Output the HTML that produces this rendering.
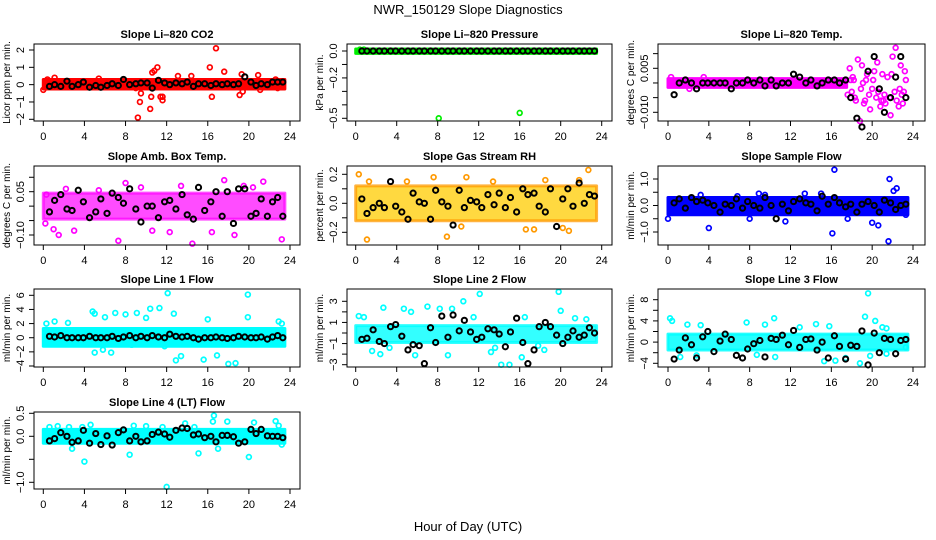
<!DOCTYPE html>
<html><head><meta charset="utf-8">
<style>
html,body{margin:0;padding:0;background:#fff;}
svg{display:block;font-family:"Liberation Sans",Arial,sans-serif;}
</style></head>
<body>
<svg id="chart" width="936" height="540" viewBox="0 0 936 540">
<text x="468" y="14" text-anchor="middle" font-size="13">NWR_150129  Slope Diagnostics</text>
<text x="468" y="531" text-anchor="middle" font-size="13">Hour of Day (UTC)</text>
</svg>
<script>
const xTicks = [0,4,8,12,16,20,24];
const blackHours = [0.6,1.1,1.7,2.3,2.8,3.4,3.9,4.5,5.1,5.6,6.2,6.7,7.3,7.8,8.4,9.0,9.5,10.1,10.6,11.2,11.8,12.3,12.9,13.5,14.0,14.6,15.1,15.7,16.3,16.8,17.4,17.9,18.5,19.0,19.6,20.2,20.7,21.2,21.8,22.3,22.8,23.3];

const co2Black = [-0.1,0,-0.1,0.2,-0.1,0,0.15,-0.15,-0.05,-0.15,-0.05,0.05,-0.05,0.3,0,0.05,0.1,0.1,-0.2,0.25,0.1,0,0.1,0.05,0.15,-0.1,0.05,0.05,-0.05,0.05,0,0.05,0,0.05,0.45,0.15,-0.05,0.05,0,0.15,0.15,0.15];
const co2OutH = [0,0.4,1.1,5.4,9.0,9.2,9.4,9.5,10.4,10.5,10.6,10.8,11.1,11.4,11.6,11.6,13.1,14.4,16.2,16.4,16.8,17.6,19.1,19.3,19.4,20.9,21.1,22.8,22.6];
const co2OutV = [-0.3,0.3,0.4,0.35,-0.2,-1.9,-1.0,-0.5,-1.4,-0.7,0.7,0.8,1.0,-0.7,-0.9,-0.7,0.5,0.5,1.0,-0.7,2.1,0.75,-0.6,0.6,-0.4,0.55,-0.3,-0.2,0.3];
const co2BandH = [0,23.5], co2BandLo = [-0.25,-0.25], co2BandHi = [0.3,0.3];

const presBlack = [0,0,0,0,0,0,0,0,0,0,0,0,0,0,0,0,0,0,0,0,0,0,0,0,0,0,0,0,0,0,0,0,0,0,0,0,0,0,0,0,0,0];
const presOutH = [0.4,0.8,8.1,16.0];
const presOutV = [0.01,0.01,-0.5,-0.46];
const presBandH = [0,23.5], presBandLo = [-0.018,-0.018], presBandHi = [0.015,0.015];

const tempBlack = [-0.004,0,0.001,0,-0.002,0,0,0,0,0,-0.002,0,0,0.001,0,0.001,-0.001,0.001,-0.001,0,0,0.003,0.002,0,0.001,-0.001,0,0.001,0.001,0,0.001,-0.005,-0.012,-0.015,0.004,0.009,-0.002,-0.010,-0.005,0.002,0.009,-0.005];
const tempOutH = [0.3,2.1,3.5,17.8,18.2,18.6,18.8,19.0,19.3,19.5,19.8,20.2,20.5,20.8,21.2,21.5,21.8,22.0,22.3,22.6,22.8,23.0,23.3,18.4,20.0,21.0,22.2,19.1,17.6,23.2,18.0,18.3,18.9,19.4,19.7,20.4,20.9,21.3,21.7,22.4,22.9,23.1,18.1,19.2,20.6,21.9,22.7,17.9,20.1,21.1];
const tempOutV = [0.002,-0.002,0.002,0.005,0.001,0.008,-0.013,0.006,-0.006,0.003,-0.009,0.004,0.007,-0.008,-0.004,0.002,-0.011,0.009,0.012,-0.008,0.006,-0.007,0.001,-0.006,-0.002,0.003,-0.003,0,-0.004,0.004,-0.003,-0.005,-0.002,0.001,-0.004,-0.005,-0.006,-0.007,-0.005,-0.006,-0.004,-0.003,0.002,-0.007,-0.003,0.003,-0.002,0.001,0.001,-0.006];
const tempBandH = [0,17.5], tempBandLo = [-0.0015,-0.0015], tempBandHi = [0.0015,0.0015];

const ambBlack = [-0.02,0.02,0.04,-0.01,-0.015,0.055,0.015,-0.04,-0.02,0.025,-0.025,0.045,0.03,0.01,0.06,-0.01,-0.055,0.0,0.0,-0.04,0.015,0.02,-0.01,0.04,-0.03,-0.045,0.065,-0.015,0.015,0.05,-0.035,0.05,-0.06,0.06,0.06,-0.035,-0.025,0.025,-0.035,0.015,0.03,-0.035];
const ambOutH = [0.3,0.2,1.0,1.5,3.0,5.4,7.3,8.0,10.6,13.4,14.5,17.6,19.5,20.4,21.4,23.2,12.3,9.5,2.2,16.4,18.6];
const ambOutV = [0.04,-0.06,-0.08,-0.1,-0.085,0.055,-0.12,0.08,-0.085,0.07,-0.13,0.09,0.07,0.065,0.085,-0.115,-0.09,0.065,0.06,-0.09,-0.1];
const ambBandH = [0,23.5], ambBandLo = [-0.045,-0.045], ambBandHi = [0.045,0.045];

const rhBlack = [0.03,-0.07,-0.03,0,-0.03,0.15,-0.02,-0.06,-0.11,0.07,0.01,0,-0.11,0.09,0.01,-0.02,-0.15,0.09,-0.03,0.02,0.01,-0.03,0.06,-0.01,0.07,-0.03,0.04,-0.06,0.1,0.06,0.07,-0.02,-0.06,0.1,-0.16,0.03,0.1,-0.02,0.14,0,0.06,0.05];
const rhOutH = [0.3,1.1,1.3,7.6,8.9,10.3,10.8,16.6,17.4,20.2,20.8,22.7,21.8,18.5,13.4,5.0];
const rhOutV = [0.2,-0.25,0.15,0.18,-0.23,-0.16,0.18,-0.18,-0.18,-0.17,-0.19,0.23,0.16,0.16,0.15,0.15];
const rhBandH = [0,23.5], rhBandLo = [-0.12,-0.12], rhBandHi = [0.12,0.12];

const sampBlack = [0.1,0.25,-0.1,0.3,0.15,0.2,0.1,0,-0.25,0.05,0,0.25,-0.1,0.15,0,-0.1,0.3,0,-0.5,0.05,-0.2,0.15,0.25,0.1,0.05,-0.2,0.35,0.05,0.3,0.1,-0.05,0.05,-0.25,0.05,0.15,0,-0.25,0.2,0.1,-0.15,0,0.05];
const sampOutH = [0,3.2,4.0,6.8,8.0,9.5,11.5,13.4,16.1,16.3,17.6,20.0,20.6,21.7,21.6,22.1,22.4,23.3,15.0,8.9];
const sampOutV = [-0.5,0.4,-0.85,0.35,-0.5,0.4,-0.6,0.45,-1.05,1.35,-0.5,-0.65,-0.75,1.0,-1.35,0.55,0.65,-0.35,0.45,0.45];
const sampBandH = [0,23.5], sampBandLo = [-0.35,-0.35], sampBandHi = [0.3,0.3];

const l1Black = [0.2,0.1,0.3,0,0,0,0,0.2,0,0,0,0.2,-0.1,0.1,0.3,0,0.2,0,0.3,0.1,0,0.5,0.2,0.1,0.2,0,-0.2,0,0,0.1,0,-0.1,0,0.2,0.1,0,0,0.1,-0.2,0.1,0.3,0];
const l1OutH = [0.3,1.1,2.4,4.8,5.0,5.0,5.8,6.0,6.6,7.0,8.0,9.1,10.0,10.4,11.3,12.1,12.7,12.9,13.4,15.6,16.9,18.0,19.9,19.9,18.7,22.9,23.2,11.8,8.6,16.0];
const l1OutV = [2.0,2.3,2.1,3.7,3.4,-2.1,-1.7,2.9,-2.1,3.5,3.3,3.5,2.8,4.1,4.2,6.3,3.4,-3.2,-2.6,-3.1,-2.5,-3.7,6.1,2.9,-3.6,2.3,2.0,-1.2,-1.0,2.6];
const l1BandH = [0,23.5], l1BandLo = [-1.2,-1.2], l1BandHi = [1.3,1.3];

const l2Black = [-0.6,-0.5,0.3,-0.8,-1.0,0.6,0.8,-0.3,-1.6,-1.1,-1.2,-2.9,0.5,-0.9,1.6,-0.4,1.7,0.2,1.2,0.1,-0.6,-0.4,0.4,0.3,-0.1,-1.3,0.1,1.4,-0.9,-2.9,-1.6,0.6,1.0,0.6,-0.2,-1.0,-0.4,0.2,-0.4,-0.2,0.5,0];
const l2OutH = [0.3,0.8,1.6,2.4,2.7,3.3,4.7,5.4,5.8,7.0,8.2,9.0,9.4,10.5,11.5,12.1,13.2,13.6,14.2,15.0,16.2,16.5,17.8,19.8,20.0,21.4,22.5,18.4];
const l2OutV = [1.6,1.5,-1.7,-2.0,2.4,-1.4,2.3,2.0,-2.1,2.5,2.3,-2.1,2.3,3.0,1.5,3.7,-1.8,-1.4,-3.0,-3.0,-2.3,1.5,-1.2,3.9,2.1,1.4,1.3,-1.6];
const l2BandH = [0,23.5], l2BandLo = [-0.9,-0.9], l2BandHi = [0.7,0.7];

const l3Black = [-3.2,-1.5,0.8,-0.5,-3.0,1.0,2.0,-1.8,0.2,1.5,0.5,-2.5,-3.0,-1.3,-0.3,0.3,-2.8,0.7,0.5,1.3,-0.5,2.2,-1.0,0.5,0.6,-1.5,0.0,-3.0,1.2,-0.8,-3.2,-0.6,-0.8,2.1,-4.3,1.7,-2.0,0.7,0.5,-2.2,0.3,0.5];
const l3OutH = [0.2,0.4,1.2,1.9,2.8,3.2,7.7,8.7,9.5,10.4,10.5,12.9,14.5,15.3,15.8,16.4,19.3,19.6,19.8,20.3,21.4,21.4,21.0,23.3,17.4,18.8];
const l3OutV = [4.5,4.0,-2.8,3.3,-2.5,3.2,3.7,-2.4,3.3,4.5,-2.8,2.8,3.4,-3.6,3.0,-3.5,4.8,9.2,-2.6,4.0,2.6,-2.2,2.8,-1.0,-3.0,-4.0];
const l3BandH = [0,23.5], l3BandLo = [-1.5,-1.5], l3BandHi = [1.5,1.5];

const l4Black = [-0.1,-0.05,0.08,0,-0.13,-0.1,0.13,-0.15,0.06,-0.18,0.01,-0.19,0.08,0.14,-0.1,0,-0.12,-0.1,0.04,0.09,0.05,-0.02,0.13,0.18,0.17,0.03,0.05,-0.03,0,-0.12,0.02,0.02,-0.01,-0.15,-0.12,0.15,0.06,0.15,0.01,0,0,-0.03];
const l4OutH = [0.6,1.4,2.5,3.8,4.0,4.6,7.8,8.4,8.8,10.0,12.0,13.8,14.7,15.1,16.5,16.6,17.0,17.9,20.0,20.5,22.6,22.9,23.2,2.8,11.6];
const l4OutV = [0.2,0.22,0.2,0.2,-0.55,0.25,-0.05,-0.4,0.23,0.22,-1.1,0.28,0.2,-0.37,0.32,0.45,-0.27,0.32,-0.45,0.3,0.33,0.23,-0.18,-0.27,0.2];
const l4BandH = [0,23.5], l4BandLo = [-0.15,-0.15], l4BandHi = [0.15,0.15];

const cols = [{l:34,r:300,h0:43.3,h24:290},{l:347,r:612,h0:355.7,h24:601.7},{l:658,r:925,h0:668,h24:913}];
const rows = [{t:44,b:121},{t:166,b:245},{t:289,b:367},{t:412,b:489}];

const panels = [
 {name:'co2',title:'Slope Li\u2013820 CO2',ylab:'Licor ppm per min.',c:0,r:0,color:'#ff0000',fill:'#ff0000',op:1,ref:[2,50,-2,119.3],ticks:[-2,-1,0,1,2],labs:[[2,'2'],[1,'1'],[0,'0'],[-1,'\u22121'],[-2,'\u22122']],black:co2Black,oh:co2OutH,ov:co2OutV,bh:co2BandH,bl:co2BandLo,bu:co2BandHi},
 {name:'pressure',title:'Slope Li\u2013820 Pressure',ylab:'kPa per min.',c:1,r:0,color:'#00ee00',fill:'#00ee00',op:1,ref:[0,51,-0.5,118.3],ticks:[0,-0.1,-0.2,-0.3,-0.4,-0.5],labs:[[0,'0.0'],[-0.2,'\u22120.2'],[-0.5,'\u22120.5']],black:presBlack,oh:presOutH,ov:presOutV,bh:presBandH,bl:presBandLo,bu:presBandHi},
 {name:'li820-temp',title:'Slope Li\u2013820 Temp.',ylab:'degrees C per min.',c:2,r:0,color:'#ff00ff',fill:'#ff00ff',op:1,ref:[0.005,68.3,-0.01,112.3],ticks:[0.01,0.005,0,-0.005,-0.01],labs:[[0.005,'0.005'],[-0.01,'\u22120.010']],black:tempBlack,oh:tempOutH,ov:tempOutV,bh:tempBandH,bl:tempBandLo,bu:tempBandHi},
 {name:'amb-box-temp',title:'Slope Amb. Box Temp.',ylab:'degrees C per min.',c:0,r:1,color:'#ff00ff',fill:'#ff00ff',op:0.7,ref:[0.05,191.7,-0.1,235],ticks:[0.1,0.05,0,-0.05,-0.1],labs:[[0.05,'0.05'],[-0.1,'\u22120.10']],black:ambBlack,oh:ambOutH,ov:ambOutV,bh:ambBandH,bl:ambBandLo,bu:ambBandHi},
 {name:'gas-stream-rh',title:'Slope Gas Stream RH',ylab:'percent per min.',c:1,r:1,color:'#ff9900',fill:'#ffcc00',op:0.75,ref:[0.2,174.3,-0.2,232.3],ticks:[0.2,0.1,0,-0.1,-0.2],labs:[[0.2,'0.2'],[0,'0.0'],[-0.2,'\u22120.2']],black:rhBlack,oh:rhOutH,ov:rhOutV,bh:rhBandH,bl:rhBandLo,bu:rhBandHi},
 {name:'sample-flow',title:'Slope Sample Flow',ylab:'ml/min per min.',c:2,r:1,color:'#0000ff',fill:'#0000ff',op:1,ref:[1,179,-1,232],ticks:[1,0.5,0,-0.5,-1],labs:[[1,'1.0'],[0,'0.0'],[-1,'\u22121.0']],black:sampBlack,oh:sampOutH,ov:sampOutV,bh:sampBandH,bl:sampBandLo,bu:sampBandHi},
 {name:'line1-flow',title:'Slope Line 1 Flow',ylab:'ml/min per min.',c:0,r:2,color:'#00ffff',fill:'#00ffff',op:1,ref:[6,295.3,-4,366],ticks:[6,4,2,0,-2,-4],labs:[[6,'6'],[4,'4'],[2,'2'],[0,'0'],[-2,'\u22122'],[-4,'\u22124']],black:l1Black,oh:l1OutH,ov:l1OutV,bh:l1BandH,bl:l1BandLo,bu:l1BandHi},
 {name:'line2-flow',title:'Slope Line 2 Flow',ylab:'ml/min per min.',c:1,r:2,color:'#00ffff',fill:'#00ffff',op:0.8,ref:[3,301.3,-3,364.7],ticks:[3,2,1,0,-1,-2,-3],labs:[[3,'3'],[1,'1'],[-1,'\u22121'],[-3,'\u22123']],black:l2Black,oh:l2OutH,ov:l2OutV,bh:l2BandH,bl:l2BandLo,bu:l2BandHi},
 {name:'line3-flow',title:'Slope Line 3 Flow',ylab:'ml/min per min.',c:2,r:2,color:'#00ffff',fill:'#00ffff',op:0.85,ref:[8,299.7,-4,363.3],ticks:[8,6,4,2,0,-2,-4],labs:[[8,'8'],[4,'4'],[0,'0'],[-4,'\u22124']],black:l3Black,oh:l3OutH,ov:l3OutV,bh:l3BandH,bl:l3BandLo,bu:l3BandHi},
 {name:'line4-flow',title:'Slope Line 4 (LT) Flow',ylab:'ml/min per min.',c:0,r:3,color:'#00ffff',fill:'#00ffff',op:1,ref:[0.5,413.3,-1,482.3],ticks:[0.5,0,-0.5,-1],labs:[[0.5,'0.5'],[0,'0.0'],[-1,'\u22121.0']],black:l4Black,oh:l4OutH,ov:l4OutV,bh:l4BandH,bl:l4BandLo,bu:l4BandHi}
];

const NS = 'http://www.w3.org/2000/svg';
const svg = document.getElementById('chart');
function mk(tag, attrs, parent){
  const e = document.createElementNS(NS, tag);
  for (const k in attrs) e.setAttribute(k, attrs[k]);
  (parent||svg).appendChild(e);
  return e;
}

panels.forEach(p => {
  const col = cols[p.c], row = rows[p.r];
  const xs = h => col.h0 + (col.h24 - col.h0) * h / 24;
  const ys = v => p.ref[1] + (v - p.ref[0]) * (p.ref[3] - p.ref[1]) / (p.ref[2] - p.ref[0]);
  const g = mk('g', {});
  
  

  let pts = [];
  for (let i = 0; i < p.bh.length; i++) pts.push(xs(p.bh[i]) + ',' + ys(p.bu[i]));
  for (let i = p.bh.length - 1; i >= 0; i--) pts.push(xs(p.bh[i]) + ',' + ys(p.bl[i]));
  const band = mk('polygon', {points: pts.join(' '), fill: p.fill, 'fill-opacity': p.op, stroke: p.color, 'stroke-opacity': p.op, 'stroke-width': 3, 'stroke-linejoin': 'round'}, g);
  
  

  for (let i = 0; i < p.oh.length; i++) {
    const c = mk('circle', {cx: xs(p.oh[i]), cy: ys(p.ov[i]), r: 2.4, fill: 'none', stroke: p.color, 'stroke-width': 1.7}, g);
    
    
  }
  const n = Math.min(blackHours.length, p.black.length);
  for (let i = 0; i < n; i++) {
    const c = mk('circle', {cx: xs(blackHours[i]), cy: ys(p.black[i]), r: 2.6, fill: 'none', stroke: '#000', 'stroke-width': 2}, g);
    
    
  }

  const box = mk('rect', {x: col.l, y: row.t, width: col.r - col.l, height: row.b - row.t, fill: 'none', stroke: '#000', 'stroke-width': 1}, g);
  
  

  xTicks.forEach(t => {
    mk('line', {x1: xs(t), x2: xs(t), y1: row.b, y2: row.b + 5, stroke: '#000'}, g);
    const tx = mk('text', {x: xs(t), y: row.b + 19, 'text-anchor': 'middle', 'font-size': 11}, g);
    tx.textContent = t;
    
    
  });
  p.ticks.forEach(t => {
    mk('line', {x1: col.l - 5, x2: col.l, y1: ys(t), y2: ys(t), stroke: '#000'}, g);
  });
  p.labs.forEach(l => {
    const x = col.l - 10, y = ys(l[0]);
    const tx = mk('text', {x: x, y: y, 'text-anchor': 'middle', 'font-size': 11, transform: 'rotate(-90 ' + x + ' ' + y + ')'}, g);
    tx.textContent = l[1];
    
    
  });
  const yl = (row.t + row.b) / 2, xl = col.l - 24;
  const ylab = mk('text', {x: xl, y: yl, 'text-anchor': 'middle', 'font-size': 10, transform: 'rotate(-90 ' + xl + ' ' + yl + ')'}, g);
  ylab.textContent = p.ylab;
  
  
  const ti = mk('text', {x: (col.l + col.r) / 2, y: row.t - 6, 'text-anchor': 'middle', 'font-size': 11, 'font-weight': 'bold'}, g);
  ti.textContent = p.title;
  
  
});
</script>
</body></html>
